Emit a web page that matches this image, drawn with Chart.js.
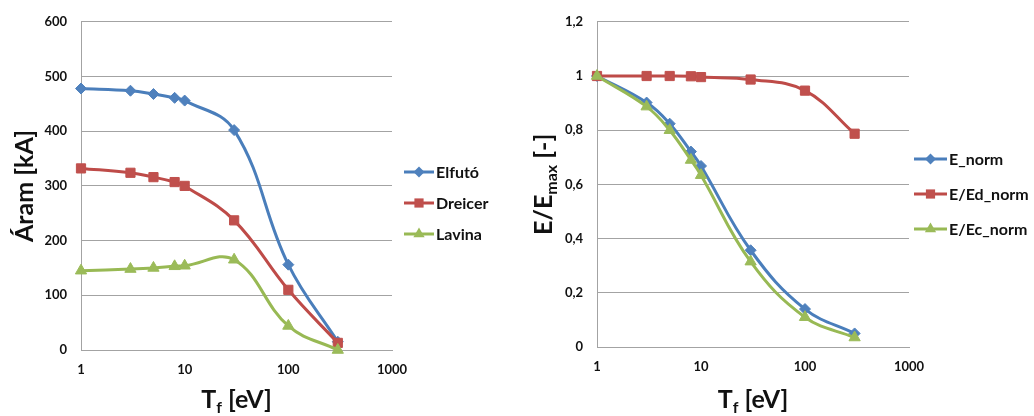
<!DOCTYPE html>
<html><head><meta charset="utf-8">
<script src="https://cdn.jsdelivr.net/npm/chart.js@4.4.0/dist/chart.umd.min.js"></script>
<style>
html,body{margin:0;padding:0;background:#fff;}
#wrap{display:flex;width:1034px;height:416px;}
.box{position:relative;height:416px;}
</style></head><body>
<div id="wrap">
  <div class="box" style="width:520px"><canvas id="c1"></canvas></div>
  <div class="box" style="width:514px"><canvas id="c2"></canvas></div>
</div>
<script>
// ---- data ----
const tfValues = [1, 3, 5, 8, 10, 30, 100, 300];
const xTickValues = [1, 10, 100, 1000];
const leftLabels = ['Elfutó', 'Dreicer', 'Lavina'];
const elfuto  = [478, 474, 468, 461, 456, 402, 156, 15];
const dreicer = [332, 324, 316, 307, 300, 237, 110, 13];
const lavina  = [145, 148, 150, 153, 154, 165, 44, 0];
const rightLabels = ['E_norm', 'E/Ed_norm', 'E/Ec_norm'];
const eNorm   = [1.0, 0.902, 0.824, 0.721, 0.668, 0.357, 0.14, 0.05];
const eEdNorm = [1.0, 1.0, 1.0, 0.999, 0.996, 0.987, 0.946, 0.787];
const eEcNorm = [1.0, 0.887, 0.80, 0.69, 0.634, 0.315, 0.11, 0.035];

// ---- styles ----
const FONT = 'Lato';
const TXT = '#111';
const GRID = '#a3a3a3';
const lineCols = ['#4A7EBB', '#BE4B48', '#98B954'];
const markCols = ['#4F81BD', '#C0504D', '#9BBB59'];
const shapes = ['rectRot', 'rect', 'triangle'];
const radii = [5.5, 6.5, 6.5];

function makeDatasets(labels, series) {
  return series.map((vals, i) => ({
    label: labels[i],
    data: tfValues.map((x, j) => ({x: x, y: vals[j]})),
    borderColor: lineCols[i],
    backgroundColor: markCols[i],
    borderWidth: 3,
    pointStyle: shapes[i],
    pointRadius: radii[i],
    pointBorderColor: markCols[i],
    pointBorderWidth: 1,
    tension: 0.4,
    fill: false,
    clip: false,
    order: 3 - i
  }));
}

function drawMarker(ctx, shape, x, y, r, col) {
  ctx.save();
  ctx.fillStyle = col;
  ctx.beginPath();
  if (shape === 'rectRot') {
    ctx.moveTo(x - r, y); ctx.lineTo(x, y - r); ctx.lineTo(x + r, y); ctx.lineTo(x, y + r);
  } else if (shape === 'rect') {
    const s = r * Math.SQRT1_2;
    ctx.rect(x - s, y - s, 2 * s, 2 * s);
  } else {
    for (let k = 0; k < 3; k++) {
      const a = k * 2 * Math.PI / 3;
      const px = x + Math.sin(a) * r, py = y - Math.cos(a) * r;
      if (k === 0) ctx.moveTo(px, py); else ctx.lineTo(px, py);
    }
  }
  ctx.closePath();
  ctx.fill();
  ctx.restore();
}

function richText(ctx, parts, cx, cy, rot) {
  ctx.save();
  ctx.translate(cx, cy);
  if (rot) ctx.rotate(-Math.PI / 2);
  let total = 0;
  parts.forEach(p => { ctx.font = 'bold ' + p.size + 'px ' + FONT; p.w = ctx.measureText(p.t).width; total += p.w; });
  let x = -total / 2;
  ctx.textBaseline = 'alphabetic';
  ctx.textAlign = 'left';
  ctx.fillStyle = TXT;
  parts.forEach(p => { ctx.font = 'bold ' + p.size + 'px ' + FONT; ctx.fillText(p.t, x, 9 + (p.dy || 0)); x += p.w; });
  ctx.restore();
}

function decorPlugin(cfg) {
  return {
    id: 'decor',
    afterDraw(chart) {
      const ctx = chart.ctx, ca = chart.chartArea;
      richText(ctx, cfg.yTitle, cfg.yTitleX, (ca.top + ca.bottom) / 2, true);
      richText(ctx, [{t: 'T', size: 25}, {t: 'f', size: 16, dy: 5}, {t: ' [eV]', size: 25}], (ca.left + ca.right) / 2, 399, false);
      chart.data.datasets.forEach((ds, i) => {
        const y = cfg.legY[i], lx = ca.right + cfg.legDx;
        ctx.save();
        ctx.strokeStyle = lineCols[i];
        ctx.lineWidth = 3;
        ctx.beginPath(); ctx.moveTo(lx, y); ctx.lineTo(lx + cfg.legLen, y); ctx.stroke();
        ctx.restore();
        drawMarker(ctx, shapes[i], lx + cfg.legLen / 2, y, radii[i], markCols[i]);
        ctx.save();
        ctx.font = 'bold 16px ' + FONT;
        ctx.fillStyle = TXT;
        ctx.textBaseline = 'middle';
        ctx.fillText(ds.label, lx + cfg.legLen + 2, y + 1);
        ctx.restore();
      });
    }
  };
}

function makeChart(id, labels, series, yMin, yMax, yStep, yFmt, yWidth, xHeight, pad, decor) {
  return new Chart(document.getElementById(id), {
    type: 'line',
    data: { datasets: makeDatasets(labels, series) },
    options: {
      responsive: true,
      maintainAspectRatio: false,
      animation: false,
      layout: { padding: pad },
      plugins: { legend: { display: false }, tooltip: { enabled: false } },
      scales: {
        x: {
          type: 'logarithmic', min: 1, max: 1000,
          afterBuildTicks: s => { s.ticks = xTickValues.map(v => ({value: v})); },
          afterFit: s => { s.height = xHeight; },
          ticks: { callback: v => String(v), color: TXT, font: { family: FONT, size: 13, weight: 'bold' }, padding: 12, maxRotation: 0, autoSkip: false },
          grid: { display: false, drawTicks: false },
          border: { color: GRID, width: 1 }
        },
        y: {
          min: yMin, max: yMax,
          afterFit: s => { s.width = yWidth; },
          ticks: { stepSize: yStep, callback: yFmt, color: TXT, font: { family: FONT, size: 13, weight: 'bold' }, padding: 14 },
          grid: { color: GRID, lineWidth: 1, drawTicks: false },
          border: { color: GRID, width: 1 }
        }
      }
    },
    plugins: [decorPlugin(decor)]
  });
}

makeChart('c1', leftLabels, [elfuto, dreicer, lavina], 0, 600, 100, v => String(v), 81, 66,
  { top: 20, right: 128, left: 0, bottom: 0 },
  { yTitle: [{t: 'Áram [kA]', size: 25}], yTitleX: 24, legY: [172, 203, 234], legDx: 12, legLen: 30 });

makeChart('c2', rightLabels, [eNorm, eEdNorm, eEcNorm], 0, 1.2, 0.2, v => String(Math.round(v * 10) / 10).replace('.', ','), 77, 69,
  { top: 15, right: 125, left: 0, bottom: 0 },
  { yTitle: [{t: 'E/E', size: 25}, {t: 'max', size: 16, dy: 5}, {t: ' [-]', size: 25}], yTitleX: 23, legY: [159, 194, 229], legDx: 5, legLen: 33 });
</script>
</body></html>
